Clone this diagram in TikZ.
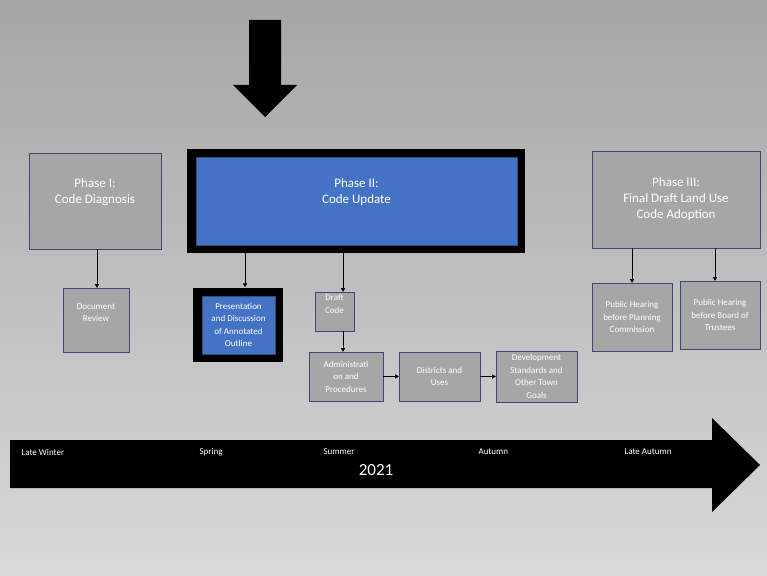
\documentclass[tikz,border=0pt]{standalone}
\usepackage{fontspec}
\setmainfont{Carlito}
\usetikzlibrary{arrows.meta,
                positioning
                }
\definecolor{boxgray}{HTML}{A6A6A6}
\definecolor{boxedge}{HTML}{3A4A78}
\definecolor{phaseblue}{HTML}{4472C4}
\newcommand\uptext[2]{\raisebox{#1}[0pt][0pt]{\begin{tabular}{@{}c@{}}#2\end{tabular}}}

\begin{document}
\begin{tikzpicture}[
    x=1pt, y=-1pt,
    phase/.style = {draw=boxedge, fill=boxgray, text=white, align=center,
                    font=\fontsize{13}{16}\selectfont},
    small/.style = {draw=boxedge, fill=boxgray, text=white, align=center,
                    font=\fontsize{9}{12.5}\selectfont},
    blue/.style  = {draw=boxedge, fill=phaseblue, text=white, align=center},
    frame/.style = {fill=black},
    link/.style  = {-Triangle, thin}
                    ]
\useasboundingbox (0,0) rectangle (767,575);
\shade[top color=gray!70, bottom color=gray!30] (0,0) rectangle (767,575);
% big arrow
\fill (249,20) -- (281,20) -- (281,85) -- (297,85) -- (265,117) -- (233,85)
      -- (249,85) -- cycle;
% phases
\node (p1) [phase, minimum width=132, minimum height=96] at (95,201)
      {\uptext{6pt}{Phase I:\\Code Diagnosis}};
\fill[frame] (187,149) rectangle (525,253);
\node (p2) [blue, font=\fontsize{13}{16}\selectfont, minimum width=321,
      minimum height=88] at (356.5,201) {\uptext{6pt}{Phase II:\\Code Update}};
\node (p3) [phase, minimum width=168, minimum height=97] at (676,199.5)
      {Phase III:\\Final Draft Land Use\\Code Adoption};
% tasks
\node (dr) [small, minimum width=66, minimum height=64] at (96,320)
      {\uptext{5pt}{Document\\Review}};
\fill[frame] (193,288) rectangle (283,362);
\node (pr) [blue, font=\fontsize{9}{12.5}\selectfont, minimum width=73,
      minimum height=58] at (238.5,325) {Presentation\\and Discussion\\of Annotated\\Outline};
\node (dc) [small, minimum width=39, minimum height=39] at (334.5,311.5)
      {\uptext{5pt}{Draft\\Code}};
\node (ad) [small, minimum width=74, minimum height=49] at (346,376.5)
      {Administrati\\on and\\Procedures};
\node (du) [small, minimum width=81, minimum height=49] at (439.5,376.5)
      {Districts and\\Uses};
\node (ds) [small, minimum width=81, minimum height=49] at (536.5,376.5)
      {Development\\Standards and\\Other Town\\Goals};
\node (ph) [small, minimum width=80, minimum height=68] at (632,317)
      {Public Hearing\\before Planning\\Commission};
\node (pt) [small, minimum width=80, minimum height=68] at (720,315)
      {Public Hearing\\before Board of\\Trustees};
% links
\draw[link] (97,249) -- (dr.north -| 97,0);
\draw[link] (245,253) -- (245,287);
\draw[link] (343,253) -- (dc.north -| 343,0);
\draw[link] (dc.south -| 343,0) -- (ad.north -| 343,0);
\draw[link] (ad) -- (du);
\draw[link] (du) -- (ds);
\draw[link] (632,248) -- (ph.north);
\draw[link] (715,248) -- (pt.north -| 715,0);
% timeline
\fill (10,440) -- (712,440) -- (712,418) -- (760,465) -- (712,512)
      -- (712,488) -- (10,488) -- cycle;
\foreach \x/\t in {18/Late Winter, 196/Spring, 320/Summer, 475/Autumn,
                   621/Late Autumn}
    \node[anchor=west, text=white, font=\fontsize{9}{11}\selectfont]
        at (\x,452) {\t};
\node (yr) [text=white, font=\fontsize{17}{20}\selectfont] at (376,470) {2021};
\end{tikzpicture}
\end{document}
